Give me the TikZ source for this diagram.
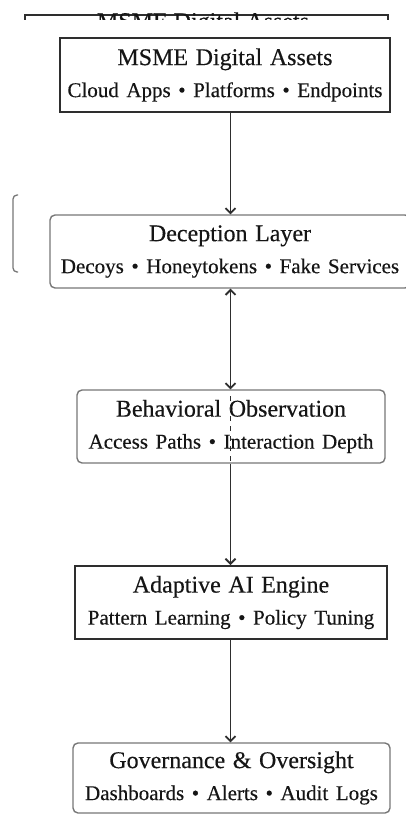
\documentclass[tikz,border=0pt]{standalone}
\usepackage{fontspec}
\setmainfont{Liberation Serif}[FakeBold=0.35]
\usetikzlibrary{arrows,arrows.meta,positioning,calc}

\definecolor{boxline}{HTML}{2E2E2E}
\definecolor{softline}{HTML}{777777}
\definecolor{inkgray}{HTML}{151515}

\newcommand{\boxtitle}{\fontsize{24}{32}\selectfont}
\newcommand{\boxsub}{\fontsize{21}{32}\selectfont\spaceskip=0.36em}

\begin{document}
\begin{tikzpicture}[x=1pt,y=-1pt,
    sharpbox/.style={draw=boxline,line width=2pt,align=center,inner sep=0pt,text=inkgray,font=\boxsub},
    softbox/.style={draw=softline,line width=1.4pt,rounded corners=5pt,align=center,inner sep=0pt,text=inkgray,font=\boxsub},
    flow/.style={draw=boxline,line width=1.8pt,-{Straight Barb[length=5pt,width=10pt]}}]
    % page frame
    \useasboundingbox (0,0) rectangle (406,814);
    \clip (0,0) rectangle (406,814);
    % shared vertical line of the connectors
    \coordinate (spine) at (230.5,0);
    % cut-off copy of the top box
    \begin{scope}
    \clip (0,0) rectangle (406,19.5);
    \node (ghost) [sharpbox,minimum width=363pt,minimum height=74pt] at (206.5,52) {};
    \node (ghosttitle) [anchor=base,text=inkgray,font=\boxtitle] at (203,29) {MSME Digital Assets};
    \end{scope}
    % bracket on the left
    \draw[softline,line width=1.3pt,rounded corners=4pt] (18,195) -- (13,195) -- (13,272) -- (18,272);
    % draw boxes
    \node (assets) [sharpbox,minimum width=330pt,minimum height=74pt] at (225,75)
        {{\boxtitle MSME Digital Assets}\\Cloud Apps • Platforms • Endpoints};
    \node (deception) [softbox,minimum width=360pt,minimum height=73pt] at (230,251.5)
        {{\boxtitle Deception Layer}\\Decoys • Honeytokens • Fake Services};
    \node (obs) [softbox,minimum width=308pt,minimum height=73pt] at (231,426.5)
        {{\boxtitle Behavioral Observation}\\Access Paths • Interaction Depth};
    \node (engine) [sharpbox,minimum width=312pt,minimum height=73pt] at (231,602.5)
        {{\boxtitle Adaptive AI Engine}\\Pattern Learning • Policy Tuning};
    \node (oversight) [softbox,minimum width=317pt,minimum height=70pt] at (231.5,778)
        {{\boxtitle Governance \& Oversight}\\Dashboards • Alerts • Audit Logs};
    % draw connectors
    \draw[flow] (assets.south -| spine) -- (deception.north -| spine);
    \draw[flow,{Straight Barb[length=5pt,width=10pt]}-{Straight Barb[length=5pt,width=10pt]}] (deception.south -| spine) -- (obs.north -| spine);
    \draw[boxline,line width=1.4pt,dash pattern=on 5pt off 5pt] ($(obs.north -| spine)+(0,7)$) -- (obs.south -| spine);
    \draw[flow] (obs.south -| spine) -- (engine.north -| spine);
    \draw[flow] (engine.south -| spine) -- (oversight.north -| spine);
\end{tikzpicture}
\end{document}
